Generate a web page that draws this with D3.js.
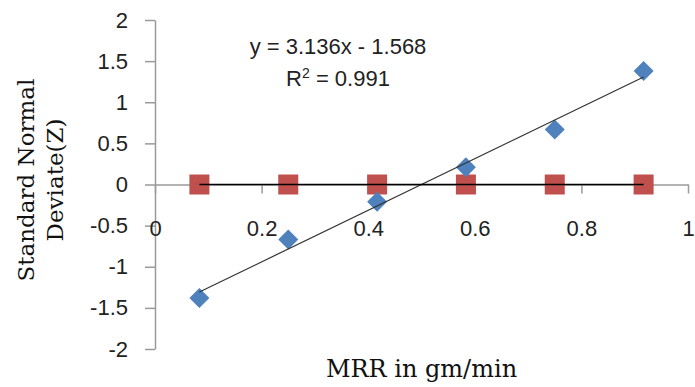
<!DOCTYPE html>
<html>
<head>
<meta charset="utf-8">
<script src="https://cdn.jsdelivr.net/npm/d3@7"></script>
<style>
  body { margin: 0; background: #fff; }
  svg { display: block; }
</style>
</head>
<body>
<div id="chart"></div>
<script>
const width = 695,
  height = 387;

// data
const mrr = [0.0833, 0.25, 0.4167, 0.5833, 0.75, 0.9167];
const zScores = [-1.38, -0.67, -0.21, 0.21, 0.67, 1.38];
const zeroLine = [0, 0, 0, 0, 0, 0];
const xTicks = [0, 0.2, 0.4, 0.6, 0.8, 1];
const yTicks = [-2, -1.5, -1, -0.5, 0, 0.5, 1, 1.5, 2];
const fit = { slope: 3.136, intercept: -1.568, r2: 0.991 };

const svg = d3
  .select("#chart")
  .append("svg")
  .attr("width", width)
  .attr("height", height);

const x = d3.scaleLinear().domain([0, 1]).range([155, 688]);
const y = d3.scaleLinear().domain([-2, 2]).range([349, 20]);

const axisColor = "#9a9a9a";
const tickFont = "'Liberation Sans', Arial, sans-serif";

// y axis at x = 0
const yAxis = svg
  .append("g")
  .attr("transform", `translate(${x(0)},0)`)
  .call(
    d3.axisLeft(y).tickValues(yTicks).tickSize(10).tickSizeOuter(0).tickPadding(17)
      .tickFormat((d) => String(d))
  );

// x axis crossing at y = 0, labels pushed down like the original
const xAxis = svg
  .append("g")
  .attr("transform", `translate(0,${y(0)})`)
  .call(
    d3.axisBottom(x).tickValues(xTicks).tickSize(9).tickSizeOuter(0).tickPadding(27)
      .tickFormat((d) => String(d))
  );

[yAxis, xAxis].forEach((g) => {
  g.select(".domain").attr("stroke", axisColor).attr("stroke-width", 1.5);
  g.selectAll(".tick line").attr("stroke", axisColor).attr("stroke-width", 1.5);
  g.selectAll(".tick text")
    .attr("fill", "#222")
    .style("font-family", tickFont)
    .style("font-size", "22px");
});

// markers
const pts = mrr.map((d, i) => ({ x: d, z: zScores[i], zero: zeroLine[i] }));

svg
  .selectAll("rect.sq")
  .data(pts)
  .join("rect")
  .attr("class", "sq")
  .attr("x", (d) => x(d.x) - 10)
  .attr("y", (d) => y(d.zero) - 10)
  .attr("width", 20)
  .attr("height", 20)
  .attr("fill", "#C0504D");

const diamond = d3.symbol().type(d3.symbolSquare).size(200);
svg
  .selectAll("path.dm")
  .data(pts)
  .join("path")
  .attr("class", "dm")
  .attr("d", diamond)
  .attr("transform", (d) => `translate(${x(d.x)},${y(d.z)}) rotate(45)`)
  .attr("fill", "#4F81BD");

// linear trendlines on top of markers
const x0 = d3.min(mrr),
  x1 = d3.max(mrr);
const line = d3.line().x((d) => x(d[0])).y((d) => y(d[1]));

svg
  .append("path")
  .attr("d", line([[x0, fit.slope * x0 + fit.intercept], [x1, fit.slope * x1 + fit.intercept]]))
  .attr("stroke", "#333")
  .attr("stroke-width", 1.2)
  .attr("fill", "none");

svg
  .append("path")
  .attr("d", line([[x0, zeroLine[0]], [x1, zeroLine[zeroLine.length - 1]]]))
  .attr("stroke", "#000")
  .attr("stroke-width", 1.5)
  .attr("fill", "none");

// trendline equation
const eq = svg
  .append("text")
  .attr("text-anchor", "middle")
  .attr("fill", "#222")
  .style("font-family", tickFont)
  .style("font-size", "22px");
eq.append("tspan").attr("x", 338).attr("y", 54).text(`y = ${fit.slope}x - ${Math.abs(fit.intercept)}`);
const r2 = eq.append("tspan").attr("x", 338).attr("y", 86);
r2.append("tspan").text("R");
r2.append("tspan").attr("dy", -8).style("font-size", "14px").text("2");
r2.append("tspan").attr("dy", 8).text(` = ${fit.r2}`);

// axis titles
const titleFont = "'DejaVu Serif', serif";
const yTitle = svg
  .append("text")
  .attr("transform", "translate(34,180) rotate(-90)")
  .attr("text-anchor", "middle")
  .attr("fill", "#111")
  .style("font-family", titleFont)
  .style("font-size", "23px");
yTitle.append("tspan").attr("x", 0).attr("y", 0).text("Standard Normal");
yTitle.append("tspan").attr("x", 0).attr("y", 29).text("Deviate(Z)");

svg
  .append("text")
  .attr("x", (x(0) + x(1)) / 2)
  .attr("y", 377)
  .attr("text-anchor", "middle")
  .attr("fill", "#111")
  .style("font-family", titleFont)
  .style("font-size", "24px")
  .text("MRR in gm/min");
</script>
</body>
</html>
